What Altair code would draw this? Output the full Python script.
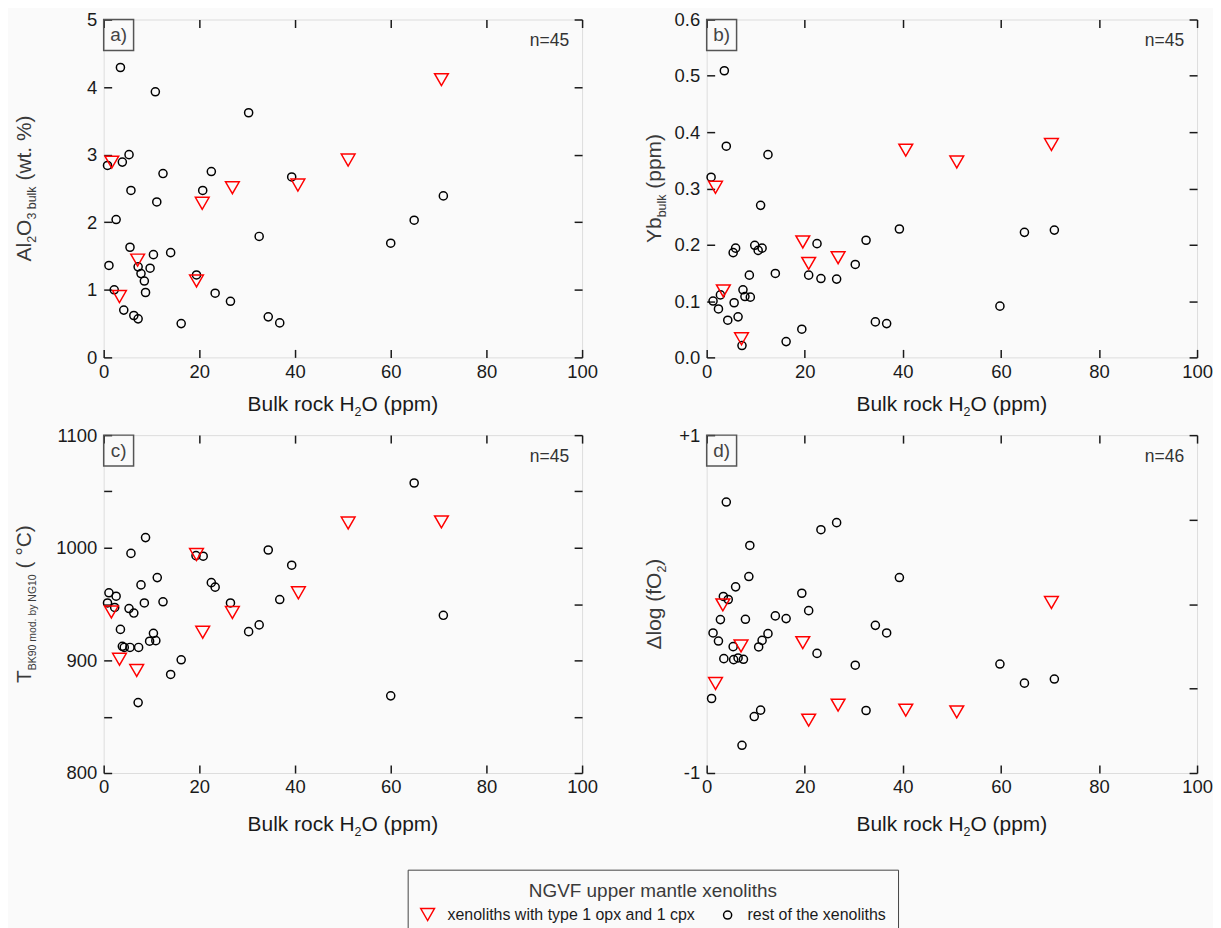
import altair as alt
import pandas as pd

FONT = "Liberation Sans"
CAT_T = "xenoliths with type 1 opx and 1 cpx"
CAT_C = "rest of the xenoliths"
LEG_TITLE = "NGVF upper mantle xenoliths"

# ---------------- data ----------------
# a) Al2O3 bulk (wt. %)
a_circ_x = [3.5, 10.8, 30.3, 5.3, 3.9, 0.8, 12.4, 22.5, 39.3, 5.7, 20.7, 11.1, 2.6, 32.5, 60.0, 64.9, 71.0, 5.5,
            10.4, 14.0, 1.1, 7.2, 9.7, 7.8, 8.5, 19.4, 2.2, 8.75, 23.3, 26.5, 4.2, 6.3, 7.2, 16.2, 34.4, 36.8]
a_circ_y = [4.29, 3.93, 3.62, 3.00, 2.89, 2.84, 2.72, 2.75, 2.67, 2.47, 2.47, 2.30, 2.04, 1.79, 1.69, 2.03, 2.39, 1.63,
            1.52, 1.55, 1.36, 1.34, 1.32, 1.24, 1.13, 1.22, 1.00, 0.96, 0.95, 0.83, 0.70, 0.62, 0.57, 0.50, 0.60, 0.51]
a_tri_x = [1.7, 7.1, 3.3, 19.4, 20.6, 26.9, 40.6, 51.1, 70.6]
a_tri_y = [2.89, 1.44, 0.90, 1.13, 2.28, 2.51, 2.55, 2.92, 4.11]

# b) Yb bulk (ppm)
b_circ_x = [3.6, 4.0, 12.5, 0.9, 11.0, 39.3, 64.8, 70.9, 32.5, 22.5, 9.8, 11.3, 10.5, 5.9, 5.4, 30.3, 14.0, 20.8,
            8.7, 23.3, 26.5, 7.4, 2.8, 7.8, 8.9, 1.3, 5.6, 2.4, 59.8, 4.3, 6.4, 34.4, 36.7, 19.4, 16.2, 7.2]
b_circ_y = [0.509, 0.375, 0.360, 0.320, 0.270, 0.228, 0.222, 0.226, 0.208, 0.202, 0.199, 0.194, 0.190, 0.194, 0.186,
            0.165, 0.149, 0.146, 0.146, 0.140, 0.139, 0.120, 0.111, 0.108, 0.107, 0.100, 0.097, 0.086, 0.091, 0.066,
            0.072, 0.063, 0.060, 0.050, 0.028, 0.021]
b_tri_x = [1.8, 3.4, 7.1, 19.6, 20.8, 26.8, 40.6, 51.0, 70.3]
b_tri_y = [0.302, 0.118, 0.033, 0.205, 0.167, 0.177, 0.368, 0.347, 0.378]

# c) T BK90 mod. by NG10 (deg C)
c_circ_x = [64.9, 8.75, 5.7, 34.4, 19.3, 20.8, 39.3, 11.2, 7.8, 22.5, 23.3, 1.1, 2.6, 0.8, 8.5, 12.4, 26.5, 2.3,
            5.3, 6.3, 36.8, 71.0, 32.5, 30.3, 3.5, 10.4, 9.6, 10.9, 3.9, 4.3, 5.5, 7.3, 16.2, 14.0, 60.0, 7.2]
c_circ_y = [1057.5, 1009, 995, 998, 993, 992.5, 984.5, 973.5, 967, 969, 965, 960, 957, 951, 951, 952, 951, 947,
            946, 942, 954, 940, 931.5, 925.5, 927.5, 924, 917, 917.5, 912.5, 911.5, 911.5, 911.5, 900.5, 887.5,
            868.5, 862.5]
c_tri_x = [1.6, 3.3, 6.9, 19.4, 20.7, 26.9, 40.7, 51.1, 70.6]
c_tri_y = [943, 901, 891, 994, 925, 942.5, 960, 1022, 1023]

# d) delta log fO2
d_circ_x = [4.0, 26.5, 23.3, 8.8, 39.3, 8.6, 5.9, 19.4, 3.4, 4.4, 20.8, 14.0, 16.2, 2.8, 7.9, 34.4, 36.7, 1.3,
            12.5, 2.4, 11.3, 5.4, 10.6, 22.5, 3.5, 5.5, 6.4, 7.5, 30.3, 59.8, 70.9, 64.8, 1.0, 32.5, 11.0, 9.7, 7.2]
d_circ_y = [0.604, 0.482, 0.440, 0.347, 0.157, 0.163, 0.102, 0.064, 0.045, 0.027, -0.039, -0.070, -0.086, -0.092,
            -0.090, -0.126, -0.171, -0.171, -0.175, -0.219, -0.215, -0.252, -0.254, -0.292, -0.323, -0.329, -0.319,
            -0.327, -0.362, -0.355, -0.444, -0.468, -0.559, -0.630, -0.628, -0.666, -0.836]
d_tri_x = [3.3, 7.0, 1.8, 19.6, 20.8, 26.8, 40.6, 51.0, 70.3]
d_tri_y = [-0.005, -0.248, -0.470, -0.228, -0.687, -0.598, -0.628, -0.638, 0.009]

X_TICKS = [0, 20, 40, 60, 80, 100]
A_TICKS = [0, 1, 2, 3, 4, 5]
B_TICKS = [0.0, 0.1, 0.2, 0.3, 0.4, 0.5, 0.6]
C_TICKS = [800, 850, 900, 950, 1000, 1050, 1100]
D_TICKS = [-1, -0.5, 0, 0.5, 1]

# ---------------- styling ----------------
WL, WR, H = 480, 492, 339
BG = "#fafafa"
INK = "#1a1a1a"
TXT = "#3a3a3a"
RED = "#ff0000"
MAIN, SUB = 21, 12.5
LBL = 18.5

# Arial / Liberation Sans advance widths (per 1000 em) used to chain title pieces
AW = {"A": 667, "l": 222, "O": 778, "2": 556, "3": 556, " ": 278, "b": 556, "u": 556, "k": 500, "(": 333,
      "w": 722, "t": 278, ".": 278, "%": 889, ")": 333, "Y": 667, "p": 556, "m": 833, "T": 611, "B": 667,
      "K": 667, "9": 556, "0": 556, "o": 556, "d": 556, "y": 500, "N": 722, "G": 778, "1": 556, "°": 400,
      "C": 722, "Δ": 668, "g": 556, "f": 278, "r": 333, "c": 500, "H": 722}


def tw(s, size):
    return sum(AW.get(ch, 556) for ch in s) * size / 1000.0


one = pd.DataFrame({"k": [0]})


def txt(text, x, y, size, dx=0, dy=0, angle=0, align="left", baseline="alphabetic", color=TXT):
    return alt.Chart(one).mark_text(
        text=text, font=FONT, fontSize=size, dx=dx, dy=dy, angle=angle,
        align=align, baseline=baseline, color=color
    ).encode(x=alt.value(x), y=alt.value(y))


def chain(pieces):
    """Return (text, size, dy, offset) per piece; leading spaces become offset (SVG strips them)."""
    out, off = [], 0.0
    for t, s, dy in pieces:
        lead = len(t) - len(t.lstrip(" "))
        off += tw(" " * lead, s)
        body = t.lstrip(" ")
        out.append((body, s, dy, off))
        off += tw(body, s)
    return out, off


def ytitle(pieces, xb):
    parts, total = chain(pieces)
    y0 = H / 2 + total / 2
    return [txt(t, xb, y0, s, dx=o, dy=dy, angle=270) for t, s, dy, o in parts]


def xtitle(pieces, yb, w):
    parts, total = chain(pieces)
    x0 = w / 2 - total / 2
    return [txt(t, x0, yb, s, dx=o, dy=dy, color=INK) for t, s, dy, o in parts]


def make_df(cx, cy, tx, ty):
    return pd.DataFrame({
        "h2o": list(cx) + list(tx),
        "val": list(cy) + list(ty),
        "grp": [CAT_C] * len(cx) + [CAT_T] * len(tx),
    })


LEGEND = alt.Legend(
    orient="none", legendX=305, legendY=853, direction="horizontal", columns=2,
    titleAnchor="middle", titleFont=FONT, titleFontSize=19, titleFontWeight="normal", titleColor=TXT,
    titlePadding=6, titleLimit=600, labelFont=FONT, labelFontSize=16, labelColor=INK, labelOffset=12,
    labelLimit=600, columnPadding=24, padding=12, strokeColor="#444444", fillColor=BG,
    symbolStrokeWidth=1.5,
)

DOM = [CAT_T, CAT_C]


def panel(df, w, ydom, yticks, fmt, label_expr, letter, ntext, ypieces, ytitle_x, xtitle_y):
    xs = alt.Scale(domain=[0, 100], nice=False, zero=False)
    ys = alt.Scale(domain=ydom, nice=False, zero=False)
    common = dict(domain=False, ticks=True, tickSize=8, tickWidth=1.5, tickColor=INK,
                  offset=-8, grid=False, title=None, minExtent=0)
    ax_b = alt.Axis(orient="bottom", values=X_TICKS, format="d", labelFont=FONT, labelFontSize=LBL,
                    labelColor=INK, labelPadding=5, labelFlush=False, labelOverlap=False, **common)
    ykw = dict(orient="left", values=yticks, format=fmt, labelFont=FONT, labelFontSize=LBL,
               labelColor=INK, labelPadding=7, labelFlush=False, labelOverlap=False, **common)
    if label_expr:
        ykw["labelExpr"] = label_expr
    ax_l = alt.Axis(**ykw)
    ax_t = alt.Axis(orient="top", values=X_TICKS, labels=False, **common)
    ax_r = alt.Axis(orient="right", values=yticks, labels=False, **common)

    pts = alt.Chart(df).mark_point(filled=False, strokeWidth=1.5, opacity=1).encode(
        x=alt.X("h2o:Q", scale=xs, axis=ax_b),
        y=alt.Y("val:Q", scale=ys, axis=ax_l),
        color=alt.Color("grp:N", scale=alt.Scale(domain=DOM, range=[RED, "#000000"]),
                        legend=LEGEND, title=LEG_TITLE),
        shape=alt.Shape("grp:N", scale=alt.Scale(domain=DOM, range=["triangle-down", "circle"]),
                        legend=LEGEND, title=LEG_TITLE),
        size=alt.Size("grp:N", scale=alt.Scale(domain=DOM, range=[190, 66]),
                      legend=LEGEND, title=LEG_TITLE),
    )
    mirror = alt.Chart(df).mark_point(opacity=0).encode(
        x=alt.X("h2o:Q", scale=xs, axis=ax_t),
        y=alt.Y("val:Q", scale=ys, axis=ax_r),
    )
    box = alt.Chart(one).mark_rect(fillOpacity=0, stroke="#555555", strokeWidth=1.5).encode(
        x=alt.value(0), x2=alt.value(30), y=alt.value(0), y2=alt.value(31)
    )
    layers = [pts, mirror, box,
              txt(letter, 15, 16, 19, align="center", baseline="middle", color="#444444"),
              txt(ntext, w - 13, 22, 17.5, align="right", baseline="middle", color="#333333")]
    layers += ytitle(ypieces, ytitle_x)
    layers += xtitle([("Bulk rock H", MAIN, 0), ("2", SUB, 5), ("O (ppm)", MAIN, 0)], H + xtitle_y, w)
    return alt.layer(*layers).resolve_axis(x="independent", y="independent").properties(width=w, height=H)


pa = panel(make_df(a_circ_x, a_circ_y, a_tri_x, a_tri_y), WL, [0, 5], A_TICKS, "d", None, "a)", "n=45",
           [("Al", MAIN, 0), ("2", SUB, 5), ("O", MAIN, 0), ("3 bulk", SUB, 5), (" (wt. %)", MAIN, 0)],
           -73, 54)
pb = panel(make_df(b_circ_x, b_circ_y, b_tri_x, b_tri_y), WR, [0, 0.6], B_TICKS, ".1f", None, "b)", "n=45",
           [("Yb", MAIN, 0), ("bulk", SUB, 5), (" (ppm)", MAIN, 0)], -46, 54)
pc = panel(make_df(c_circ_x, c_circ_y, c_tri_x, c_tri_y), WL, [800, 1100], C_TICKS, "d",
           "datum.value % 100 == 0 ? datum.label : ''", "c)", "n=45",
           [("T", MAIN, 0), ("BK90 mod. by NG10", 10.5, 5), (" ( °C)", MAIN, 0)], -73, 58)
pd_ = panel(make_df(d_circ_x, d_circ_y, d_tri_x, d_tri_y), WR, [-1, 1], D_TICKS, "d",
            "datum.value == 1 ? '+1' : (datum.value == 0 ? '0' : (datum.value == -1 ? '-1' : ''))",
            "d)", "n=46",
            [("Δlog (fO", MAIN, 0), ("2", SUB, 5), (")", MAIN, 0)], -46, 58)

top = alt.hconcat(pa, pb, spacing=45)
bottom = alt.hconcat(pc, pd_, spacing=45)
chart = alt.vconcat(top, bottom, spacing=6).properties(
    background=BG,
    padding={"left": 5, "top": 0, "right": 0, "bottom": 0},
).configure_view(stroke=INK, strokeWidth=1.8).configure(font=FONT)

chart.save("out.html", embed_options={"renderer": "svg", "actions": False})
